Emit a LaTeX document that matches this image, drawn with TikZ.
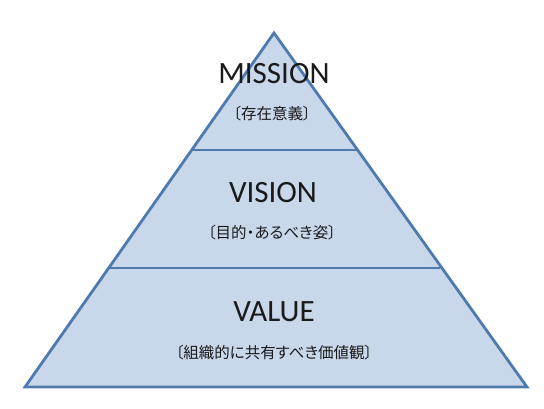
\documentclass[tikz,border=0pt]{standalone}
\usepackage{fontspec}
\setmainfont{Carlito}
\newfontfamily\jp[RawFeature=+palt]{Noto Sans CJK JP}
\definecolor{pfill}{HTML}{C9D7EA}
\definecolor{pline}{HTML}{4F7AB0}
\definecolor{ptext}{HTML}{1A1A1A}
\begin{document}
\begin{tikzpicture}[x=1pt,y=-1pt,
  title/.style={text=ptext,font=\fontsize{31}{34}\selectfont,inner sep=0pt},
  sub/.style={text=ptext,font=\jp\fontsize{15.5}{17}\selectfont,inner sep=0pt},
  edge/.style={draw=pline,line width=2.8pt,line join=miter}]
\useasboundingbox (0,0) rectangle (544,408);
\coordinate (apex) at (274,33);
\coordinate (bl) at (25,387);
\coordinate (br) at (527,387);
\coordinate (l1) at (191.5,150);
\coordinate (r1) at (356.5,150);
\coordinate (l2) at (108.5,268);
\coordinate (r2) at (439.5,268);
\fill[pfill] (apex) -- (br) -- (bl) -- cycle;
\draw[edge] (l1) -- (r1);
\draw[edge] (l2) -- (r2);
\draw[edge] (apex) -- (br) -- (bl) -- cycle;
\node[title] (m) at (274,74) {MISSION};
\node[sub] (ms) at (272,114) {〔存在意義〕};
\node[title] (v) at (273,193) {VISION};
\node[sub] (vs) at (272,233) {〔目的・あるべき姿〕};
\node[title] (va) at (274,312) {VALUE};
\node[sub] (vas) at (274,353) {〔組織的に共有すべき価値観〕};
\end{tikzpicture}
\end{document}
